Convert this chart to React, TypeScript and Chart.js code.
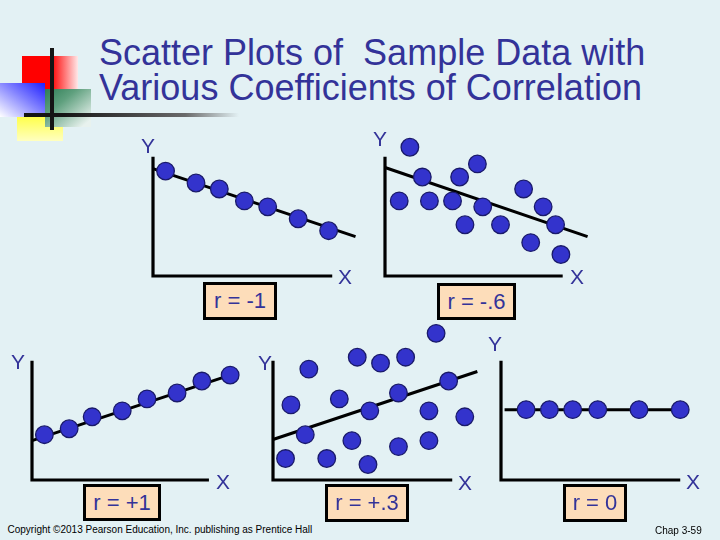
import React, { useEffect, useRef } from "react";
import { Chart, registerables } from "chart.js";

Chart.register(...registerables);

// ---- Data (arbitrary units, each panel's drawn axes run 0..10) ----
// r = -1
const negOneX = [0.7, 2.4, 3.7, 5.1, 6.4, 8.1, 9.8];
const negOneY = [8.8, 7.8, 7.3, 6.3, 5.8, 4.8, 3.8];
const negOneLineX = [0, 11.3];
const negOneLineY = [9.0, 3.3];

// r = -.6
const negSixX = [1.4, 2.1, 4.2, 5.2, 0.8, 2.5, 3.8, 5.5, 4.5, 6.5, 7.8, 8.9, 9.6, 8.2, 9.9];
const negSixY = [10.8, 8.3, 8.3, 9.4, 6.3, 6.3, 6.3, 5.8, 4.3, 4.3, 7.3, 5.8, 4.3, 2.8, 1.8];
const negSixLineX = [0, 11.4];
const negSixLineY = [9.1, 3.3];

// r = +1
const posOneX = [0.7, 2.1, 3.4, 5.1, 6.5, 8.2, 9.6, 11.2];
const posOneY = [3.8, 4.3, 5.3, 5.8, 6.8, 7.3, 8.3, 8.8];
const posOneLineX = [0, 11.2];
const posOneLineY = [3.3, 8.8];

// r = +.3
const posThreeX = [9.1, 4.7, 6.0, 7.4, 2.0, 1.0, 3.7, 7.0, 9.8, 5.4, 8.7, 10.7, 1.8, 4.4, 8.7, 7.0, 0.7, 3.0, 5.3];
const posThreeY = [12.3, 10.3, 9.8, 10.3, 9.3, 6.3, 6.8, 7.3, 8.3, 5.8, 5.8, 5.3, 3.8, 3.3, 3.3, 2.8, 1.8, 1.8, 1.3];
const posThreeLineX = [0, 11.4];
const posThreeLineY = [3.4, 9.1];

// r = 0
const zeroX = [1.4, 2.7, 4.0, 5.4, 7.7, 10.0];
const zeroY = [5.9, 5.9, 5.9, 5.9, 5.9, 5.9];
const zeroLineX = [0.2, 10.0];
const zeroLineY = [5.9, 5.9];

const axisLength = 10; // drawn length of the X and Y axis lines (data units)
const scaleMax = 13; // scale extent so that every point fits in the chart area

const rLabels = ["r = -1", "r = -.6", "r = +1", "r = +.3", "r = 0"];
const titleLines = ["Scatter Plots of  Sample Data with", "Various Coefficients of Correlation"];
const copyrightText = "Copyright \u00A92013 Pearson Education, Inc. publishing as Prentice Hall";
const pageText = "Chap 3-59";

// ---- Styling / layout ----
const FONT = '"Liberation Sans", Arial, Helvetica, sans-serif';
const NAVY = "#333399";
const BG = "#E3F1F4";
const PEACH = "#FDDDBA";
const PAD = { left: 20, top: 10, right: 30, bottom: 15 };
const K = scaleMax / axisLength;

const axisLinesPlugin = {
  id: "axisLines",
  beforeDatasetsDraw(chart: any) {
    const { ctx, scales } = chart;
    const xs = scales.x;
    const ys = scales.y;
    const x0 = xs.getPixelForValue(0);
    const x1 = xs.getPixelForValue(axisLength);
    const y0 = ys.getPixelForValue(0);
    const y1 = ys.getPixelForValue(axisLength);
    ctx.save();
    ctx.strokeStyle = "#000000";
    ctx.lineWidth = 3.2;
    ctx.lineJoin = "miter";
    ctx.lineCap = "butt";
    ctx.beginPath();
    ctx.moveTo(x0, y1);
    ctx.lineTo(x0, y0);
    ctx.lineTo(x1, y0);
    ctx.stroke();
    ctx.restore();
  },
};

type PanelProps = {
  xs: number[];
  ys: number[];
  lx: number[];
  ly: number[];
  left: number; // pixel of x = 0
  top: number; // pixel of y = axisLength
  w: number; // pixel length of x axis line
  h: number; // pixel length of y axis line
};

function Panel({ xs, ys, lx, ly, left, top, w, h }: PanelProps) {
  const ref = useRef<HTMLCanvasElement>(null);
  const areaW = w * K;
  const areaH = h * K;
  useEffect(() => {
    if (!ref.current) return;
    const axis = {
      type: "linear" as const,
      display: true,
      min: 0,
      max: scaleMax,
      ticks: { display: false },
      grid: { display: false, drawTicks: false, tickLength: 0 },
      border: { display: false },
      title: { display: false },
    };
    const chart = new Chart(ref.current, {
      type: "scatter",
      data: {
        datasets: [
          {
            data: xs.map((x, i) => ({ x, y: ys[i] })),
            pointRadius: 8.8,
            pointBackgroundColor: "#3333CC",
            pointBorderColor: "#1A1A6A",
            pointBorderWidth: 1.3,
            showLine: false,
            clip: false,
            order: 1,
          } as any,
          {
            data: lx.map((x, i) => ({ x, y: ly[i] })),
            showLine: true,
            borderColor: "#000000",
            borderWidth: 3,
            pointRadius: 0,
            clip: false,
            order: 2,
          } as any,
        ],
      },
      options: {
        animation: false,
        responsive: false,
        events: [],
        layout: { padding: PAD, autoPadding: false } as any,
        plugins: { legend: { display: false }, tooltip: { enabled: false } },
        scales: { x: axis as any, y: axis as any },
      },
      plugins: [axisLinesPlugin],
    });
    return () => chart.destroy();
  }, []);
  return (
    <canvas
      ref={ref}
      width={Math.round(areaW + PAD.left + PAD.right)}
      height={Math.round(areaH + PAD.top + PAD.bottom)}
      style={{ position: "absolute", left: left - PAD.left, top: top + h - areaH - PAD.top }}
    />
  );
}

function AxisLetter({ ch, cx, cy }: { ch: string; cx: number; cy: number }) {
  return (
    <div
      style={{
        position: "absolute",
        left: cx - 7,
        top: cy - 10.3,
        fontSize: 21,
        lineHeight: "21px",
        color: NAVY,
        fontFamily: FONT,
      }}
    >
      {ch}
    </div>
  );
}

function RBox({ text, left, top, w, h }: { text: string; left: number; top: number; w: number; h: number }) {
  return (
    <div
      style={{
        position: "absolute",
        left,
        top,
        width: w,
        height: h,
        boxSizing: "border-box",
        border: "3px solid #000",
        background: PEACH,
        color: NAVY,
        fontFamily: FONT,
        fontSize: 22,
        display: "flex",
        alignItems: "center",
        justifyContent: "center",
        whiteSpace: "pre",
      }}
    >
      {text}
    </div>
  );
}

function Logo() {
  const abs = { position: "absolute" as const };
  return (
    <>
      <div style={{ ...abs, left: 17, top: 108, width: 46, height: 33, background: "linear-gradient(to bottom, #FFFF20 0%, #FFFF80 60%, #FFFFC0 100%)" }} />
      <div style={{ ...abs, left: 22, top: 56, width: 56, height: 33, background: "linear-gradient(to right, #FF0000 0%, #FF0000 52%, #FFE8E8 100%)" }} />
      <div style={{ ...abs, left: 45, top: 89, width: 46, height: 38, background: "linear-gradient(to bottom right, #2E7D55 0%, #5FA07E 35%, #E8F2EE 90%)" }} />
      <div style={{ ...abs, left: 0, top: 83, width: 45, height: 34, background: "linear-gradient(to bottom left, #1E1EFF 0%, #8080FF 45%, #FFFFFF 100%)" }} />
      <div style={{ ...abs, left: 24, top: 112.5, width: 215, height: 4, background: "linear-gradient(to right, #151515 0%, #151515 18%, #6A6A6A 75%, rgba(140,140,140,0) 100%)" }} />
      <div style={{ ...abs, left: 50, top: 48, width: 4, height: 82, background: "#151515" }} />
    </>
  );
}

export default function App() {
  return (
    <div
      style={{
        position: "absolute",
        left: 0,
        top: 0,
        width: 720,
        height: 540,
        background: BG,
        overflow: "hidden",
        fontFamily: FONT,
      }}
    >
      <Logo />
      <div
        style={{
          position: "absolute",
          left: 99,
          top: 35,
          fontSize: 36,
          lineHeight: "35px",
          color: NAVY,
          whiteSpace: "pre",
          fontFamily: FONT,
        }}
      >
        {titleLines[0]}
        <br />
        {titleLines[1]}
      </div>

      <Panel xs={negOneX} ys={negOneY} lx={negOneLineX} ly={negOneLineY} left={153} top={157} w={179} h={119} />
      <Panel xs={negSixX} ys={negSixY} lx={negSixLineX} ly={negSixLineY} left={385} top={157} w={178} h={119} />
      <Panel xs={posOneX} ys={posOneY} lx={posOneLineX} ly={posOneLineY} left={32} top={361} w={177} h={119} />
      <Panel xs={posThreeX} ys={posThreeY} lx={posThreeLineX} ly={posThreeLineY} left={273} top={361} w={179} h={119} />
      <Panel xs={zeroX} ys={zeroY} lx={zeroLineX} ly={zeroLineY} left={501} top={361} w={179} h={119} />

      <AxisLetter ch="Y" cx={148} cy={145} />
      <AxisLetter ch="X" cx={345} cy={276} />
      <AxisLetter ch="Y" cx={380} cy={138} />
      <AxisLetter ch="X" cx={577} cy={276} />
      <AxisLetter ch="Y" cx={18} cy={361} />
      <AxisLetter ch="X" cx={223} cy={481} />
      <AxisLetter ch="Y" cx={265} cy={362} />
      <AxisLetter ch="X" cx={465} cy={482} />
      <AxisLetter ch="Y" cx={495} cy={343} />
      <AxisLetter ch="X" cx={693} cy={481} />

      <RBox text={rLabels[0]} left={203} top={282} w={74} h={38} />
      <RBox text={rLabels[1]} left={437} top={283} w={79} h={37} />
      <RBox text={rLabels[2]} left={83} top={484} w={78} h={37} />
      <RBox text={rLabels[3]} left={325} top={484} w={84} h={38} />
      <RBox text={rLabels[4]} left={563} top={484} w={64} h={38} />

      <div style={{ position: "absolute", left: 7.5, top: 524.5, fontSize: 10, lineHeight: "10px", color: "#000", whiteSpace: "pre", fontFamily: FONT }}>
        {copyrightText}
      </div>
      <div style={{ position: "absolute", left: 655, top: 525.5, fontSize: 10, lineHeight: "10px", color: "#000", whiteSpace: "pre", fontFamily: FONT }}>
        {pageText}
      </div>
    </div>
  );
}
